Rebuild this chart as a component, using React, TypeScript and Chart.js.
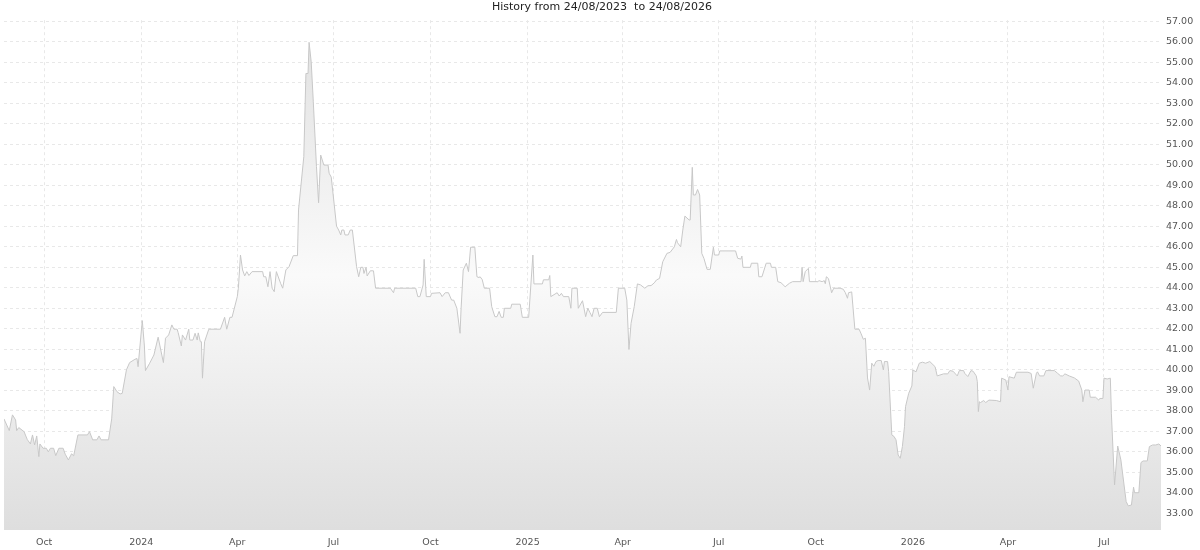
import React, { useEffect, useRef } from "react";
import { Chart, registerables } from "chart.js";

Chart.register(...registerables);

const START_DATE = "2023-08-24";
const END_DATE = "2026-08-24";
const TITLE = "History from 24/08/2023  to 24/08/2026";

// days since START_DATE
const dayOffsets = [
  0, 5, 8, 11, 12, 14, 19, 22, 25, 27,
  29, 31, 33, 34, 37, 40, 42, 44, 47, 49,
  52, 56, 58, 61, 63, 64, 66, 70, 79, 81,
  84, 88, 90, 92, 99, 102, 104, 107, 110, 112,
  116, 119, 124, 126, 127, 131, 133, 134, 138, 142,
  146, 151, 153, 156, 159, 161, 164, 165, 168, 169,
  172, 175, 176, 179, 181, 183, 184, 186, 187, 188,
  190, 194, 205, 209, 211, 214, 216, 221, 222, 224,
  226, 228, 230, 232, 235, 245, 246, 248, 250, 252,
  254, 256, 258, 262, 264, 267, 270, 274, 278, 279,
  284, 286, 288, 289, 291, 293, 296, 298, 300, 303,
  307, 308, 310, 315, 317, 319, 320, 322, 323, 326,
  328, 330, 334, 336, 338, 340, 341, 343, 344, 347,
  350, 352, 366, 369, 370, 390, 392, 394, 397, 398,
  400, 404, 405, 413, 415, 418, 421, 424, 426, 429,
  432, 433, 435, 438, 440, 442, 446, 448, 450, 451,
  453, 455, 460, 462, 465, 467, 469, 471, 473, 474,
  480, 481, 489, 491, 497, 501, 502, 510, 511, 516,
  517, 518, 524, 526, 528, 530, 535, 537, 538, 543,
  544, 548, 551, 553, 555, 557, 559, 562, 564, 567,
  580, 582, 588, 590, 592, 594, 597, 600, 603, 607,
  610, 613, 616, 618, 621, 624, 628, 631, 635, 637,
  638, 641, 643, 645, 649, 650, 652, 653, 655, 657,
  659, 661, 663, 666, 669, 672, 673, 677, 678, 693,
  695, 698, 699, 700, 707, 708, 714, 715, 718, 722,
  726, 727, 731, 733, 736, 740, 744, 747, 755, 756,
  757, 759, 762, 763, 771, 772, 775, 777, 778, 779,
  781, 784, 786, 792, 795, 797, 799, 800, 803, 806,
  810, 812, 814, 816, 818, 820, 822, 824, 826, 828,
  831, 833, 834, 837, 838, 841, 843, 845, 847, 849,
  851, 853, 854, 857, 860, 861, 864, 867, 870, 873,
  877, 880, 882, 884, 890, 894, 896, 899, 903, 905,
  909, 910, 913, 916, 918, 921, 922, 923, 924, 925,
  928, 930, 933, 940, 944, 945, 949, 951, 952, 957,
  959, 970, 973, 975, 978, 979, 981, 985, 987, 995,
  998, 1001, 1003, 1005, 1009, 1014, 1018, 1021, 1022, 1024,
  1028, 1029, 1034, 1037, 1038, 1041, 1042, 1045, 1048, 1049,
  1052, 1055, 1058, 1063, 1065, 1068, 1070, 1071, 1075, 1077,
  1079, 1083, 1085, 1088, 1091, 1094, 1096,
];

const prices = [
  37.6, 37.03, 37.8, 37.55, 37.03, 37.18, 36.98, 36.6, 36.38, 36.82,
  36.33, 36.77, 35.76, 36.38, 36.17, 36.17, 36.0, 36.17, 36.17, 35.81,
  36.17, 36.17, 35.88, 35.6, 35.8, 35.9, 35.8, 36.82, 36.82, 36.98,
  36.58, 36.58, 36.77, 36.58, 36.58, 37.6, 39.18, 38.93, 38.82, 38.85,
  40.0, 40.35, 40.51, 40.55, 40.15, 42.4, 41.16, 39.96, 40.32, 40.72,
  41.59, 40.35, 41.54, 41.7, 42.19, 41.98, 41.98, 41.81, 41.16, 41.7,
  41.45, 41.98, 41.45, 41.45, 41.78, 41.45, 41.8, 41.37, 41.37, 39.59,
  41.37, 41.98, 41.98, 42.56, 41.98, 42.56, 42.56, 43.57, 43.98, 45.6,
  44.87, 44.58, 44.79, 44.6, 44.79, 44.79, 44.54, 44.54, 44.05, 44.79,
  43.98, 43.81, 44.79, 44.22, 43.98, 44.87, 45.03, 45.57, 45.57, 47.8,
  50.4, 54.46, 54.46, 55.98, 55.03, 53.08, 49.91, 48.15, 50.48, 49.99,
  49.99, 49.59, 49.4, 47.01, 46.82, 46.58, 46.82, 46.82, 46.58, 46.58,
  46.82, 46.82, 45.03, 44.54, 45.0, 45.0, 44.7, 45.0, 44.58, 44.83,
  44.83, 43.98, 43.98, 43.76, 43.98, 43.98, 43.57, 43.57, 44.14, 45.39,
  43.57, 43.57, 43.73, 43.76, 43.57, 43.76, 43.76, 43.4, 43.4, 43.0,
  41.78, 43.0, 44.87, 45.2, 44.79, 45.98, 45.98, 44.54, 44.5, 44.54,
  44.4, 43.98, 43.98, 43.08, 42.59, 42.59, 42.85, 42.56, 42.56, 43.0,
  43.0, 43.2, 43.2, 42.56, 42.56, 45.6, 44.19, 44.19, 44.39, 44.39,
  44.6, 43.57, 43.76, 43.6, 43.73, 43.57, 43.57, 43.0, 43.98, 43.98,
  43.0, 43.37, 42.59, 43.0, 42.8, 42.59, 43.0, 43.0, 42.59, 42.8,
  42.8, 43.98, 43.98, 43.4, 40.99, 42.27, 43.08, 44.19, 44.14, 43.98,
  44.1, 44.11, 44.24, 44.38, 44.46, 45.27, 45.68, 45.73, 46.0, 46.36,
  46.2, 46.0, 46.82, 47.5, 47.31, 47.31, 49.88, 48.53, 48.53, 48.8,
  48.53, 45.68, 45.44, 44.9, 44.9, 45.98, 45.6, 45.6, 45.8, 45.8,
  45.44, 45.4, 45.55, 45.0, 45.0, 45.2, 45.2, 44.54, 44.54, 45.2,
  45.2, 45.0, 45.0, 44.3, 44.25, 44.05, 44.22, 44.3, 44.3, 45.0,
  44.3, 44.79, 44.95, 44.3, 44.3, 44.35, 44.3, 44.35, 44.2, 44.54,
  44.45, 43.76, 43.98, 43.98, 43.93, 43.76, 43.49, 43.76, 43.8, 41.98,
  41.98, 41.75, 41.49, 41.54, 39.6, 39.01, 40.32, 40.17, 40.4, 40.45,
  40.45, 39.99, 40.4, 40.4, 39.91, 36.82, 36.75, 36.58, 35.84, 35.68,
  36.25, 37.22, 38.2, 38.85, 39.21, 39.99, 39.9, 40.32, 40.37, 40.32,
  40.4, 40.25, 40.15, 39.7, 39.8, 39.8, 39.96, 39.93, 39.7, 39.96,
  39.96, 39.83, 39.67, 39.96, 39.93, 39.7, 39.42, 37.96, 38.44, 38.4,
  38.5, 38.4, 38.52, 38.5, 38.44, 39.59, 39.5, 39.01, 39.66, 39.59,
  39.88, 39.88, 39.82, 39.1, 39.83, 39.9, 39.7, 39.7, 39.96, 39.96,
  39.83, 39.7, 39.7, 39.8, 39.7, 39.6, 39.45, 39.01, 38.44, 39.01,
  39.01, 38.66, 38.66, 38.52, 38.6, 38.6, 39.59, 39.55, 39.59, 37.88,
  34.38, 36.28, 35.6, 33.57, 33.36, 33.4, 34.27, 34.0, 34.0, 35.47,
  35.55, 35.55, 36.25, 36.33, 36.33, 36.38, 36.28,
];

const xTickDates = [
  "2023-10-01", "2024-01-01", "2024-04-01", "2024-07-01",
  "2024-10-01", "2025-01-01", "2025-04-01", "2025-07-01",
  "2025-10-01", "2026-01-01", "2026-04-01", "2026-07-01",
];
const xTickLabels = ["Oct", "2024", "Apr", "Jul", "Oct", "2025", "Apr", "Jul", "Oct", "2026", "Apr", "Jul"];

const yTicks = [33, 34, 35, 36, 37, 38, 39, 40, 41, 42, 43, 44, 45, 46, 47, 48, 49, 50, 51, 52, 53, 54, 55, 56, 57];
const Y_MIN = 32.18;
const Y_MAX = 57.06;

const FONT = "DejaVu Sans";

function dayIndex(iso: string): number {
  return Math.round((Date.parse(iso) - Date.parse(START_DATE)) / 86400000);
}

export default function App() {
  const ref = useRef<HTMLCanvasElement | null>(null);

  useEffect(() => {
    if (!ref.current) return;
    const n = Math.min(dayOffsets.length, prices.length);
    const points = [];
    for (let i = 0; i < n; i++) points.push({ x: dayOffsets[i], y: prices[i] });

    const gridColor = "#e8e8e8";
    const chart = new Chart(ref.current, {
      type: "line",
      data: {
        datasets: [
          {
            data: points,
            borderColor: "#c8c8c8",
            borderWidth: 1,
            pointRadius: 0,
            tension: 0,
            fill: "start",
            backgroundColor: (ctx: any) => {
              const c = ctx.chart;
              const a = c.chartArea;
              if (!a) return "#eeeeee";
              const g = c.ctx.createLinearGradient(0, a.top, 0, a.bottom);
              g.addColorStop(0, "#e0e0e0");
              g.addColorStop(0.5, "#fafafa");
              g.addColorStop(1, "#dedede");
              return g;
            },
          },
        ],
      },
      options: {
        animation: false,
        responsive: false,
        devicePixelRatio: 1,
        layout: { padding: { left: 4, top: 0, right: 0, bottom: 1 } },
        plugins: {
          legend: { display: false },
          tooltip: { enabled: false },
          title: {
            display: true,
            text: TITLE,
            color: "#222",
            font: { family: FONT, size: 11, weight: "normal" },
            padding: { top: 1, bottom: 6 },
          },
        },
        scales: {
          x: {
            type: "linear",
            min: 0,
            max: dayIndex(END_DATE),
            afterBuildTicks: (s: any) => {
              s.ticks = xTickDates.map((d) => ({ value: dayIndex(d) }));
            },
            afterFit: (s: any) => {
              s.height = 19;
            },
            ticks: {
              autoSkip: false,
              maxRotation: 0,
              padding: 7,
              color: "#555",
              font: { family: FONT, size: 9.5 },
              callback: (_v: any, i: number) => xTickLabels[i],
            },
            grid: { color: gridColor, drawTicks: false },
            border: { display: false, dash: [3, 3] },
          },
          y: {
            type: "linear",
            position: "right",
            min: Y_MIN,
            max: Y_MAX,
            afterBuildTicks: (s: any) => {
              s.ticks = yTicks.map((v) => ({ value: v }));
            },
            afterFit: (s: any) => {
              s.width = 39;
            },
            ticks: {
              padding: 5,
              color: "#555",
              font: { family: FONT, size: 9.5 },
              callback: (v: any) => Number(v).toFixed(2),
            },
            grid: { color: gridColor, drawTicks: false },
            border: { display: false, dash: [3, 3] },
          },
        },
      },
    } as any);
    return () => chart.destroy();
  }, []);

  return (
    <div style={{ position: "absolute", left: 0, top: 0, width: 1200, height: 550, background: "#fff" }}>
      <canvas ref={ref} width={1200} height={550} style={{ display: "block", width: 1200, height: 550 }} />
    </div>
  );
}
